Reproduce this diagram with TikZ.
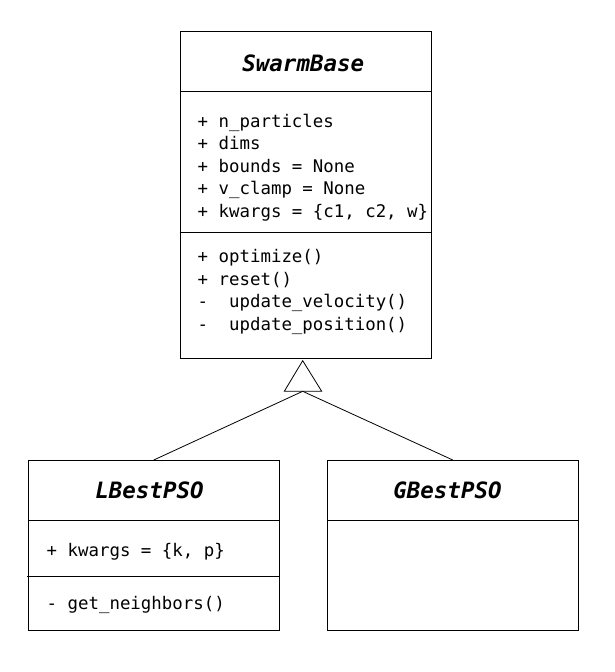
\documentclass[tikz,border=0pt]{standalone}
\usepackage{fontspec}
\setmonofont{DejaVu Sans Mono}
\begin{document}
\begin{tikzpicture}[x=1pt,y=-1pt,
  classbox/.style={draw=black,line width=1pt,fill=white,inner sep=0pt,minimum width=251pt},
  divider/.style={line width=1pt},
  gen/.style={line width=0.8pt},
  ctitle/.style={anchor=base,inner sep=0pt,font=\ttfamily\bfseries\itshape\fontsize{22.5}{26}\selectfont},
  member/.style={anchor=base west,inner sep=0pt,font=\ttfamily\fontsize{17.4}{20}\selectfont}]
\useasboundingbox[fill=white] (0,0) rectangle (614,672);
% boxes
\node[classbox,minimum height=327pt] (swarm) at (305.5,194.5) {};
\node[classbox,minimum height=170pt] (lbest) at (153.8,545.5) {};
\node[classbox,minimum height=170pt] (gbest) at (452.8,545.5) {};
% dividers
\draw[divider] (swarm.west |- 0,91.5) -- (swarm.east |- 0,91.5);
\draw[divider] (swarm.west |- 0,232.5) -- (swarm.east |- 0,232.5);
\draw[divider] (lbest.west |- 0,520.7) -- (lbest.east |- 0,520.7);
\draw[divider] (26.5,576.7) -- (lbest.east |- 0,576.7);
\draw[divider] (gbest.west |- 0,520.7) -- (gbest.east |- 0,520.7);
% titles
\node[ctitle] (swarmT) at (303.3,71.7) {SwarmBase};
\node[ctitle] (lbestT) at (149.5,498.3) {LBestPSO};
\node[ctitle] (gbestT) at (447.5,498.3) {GBestPSO};
% SwarmBase members
\node[member] (a1) at (197.5,127.3) {+ n\_particles};
\node[member] (a2) at (197.5,149.8) {+ dims};
\node[member] (a3) at (197.5,172.3) {+ bounds = None};
\node[member] (a4) at (197.5,194.8) {+ v\_clamp = None};
\node[member] (a5) at (197.5,217.3) {+ kwargs = \{c1, c2, w\}};
\node[member] (m1) at (197.5,262.7) {+ optimize()};
\node[member] (m2) at (197.5,285.2) {+ reset()};
\node[member] (m3) at (197.5,307.7) {-\ \ update\_velocity()};
\node[member] (m4) at (197.5,330.2) {-\ \ update\_position()};
% LBestPSO members
\node[member] (la1) at (46.5,556.7) {+ kwargs = \{k, p\}};
\node[member] (lm1) at (46.5,609.3) {- get\_neighbors()};
% generalization triangle
\coordinate (apex) at (302.7,360.7);
\coordinate (tl) at (284.3,391.3);
\coordinate (tr) at (321.7,391.3);
\coordinate (tb) at (302.7,391.3);
\draw[gen,line join=miter] (apex) -- (tl) -- (tr) -- cycle;
\draw[gen] (tb) -- (lbest.north);
\draw[gen] (tb) -- (gbest.north);
\end{tikzpicture}
\end{document}
